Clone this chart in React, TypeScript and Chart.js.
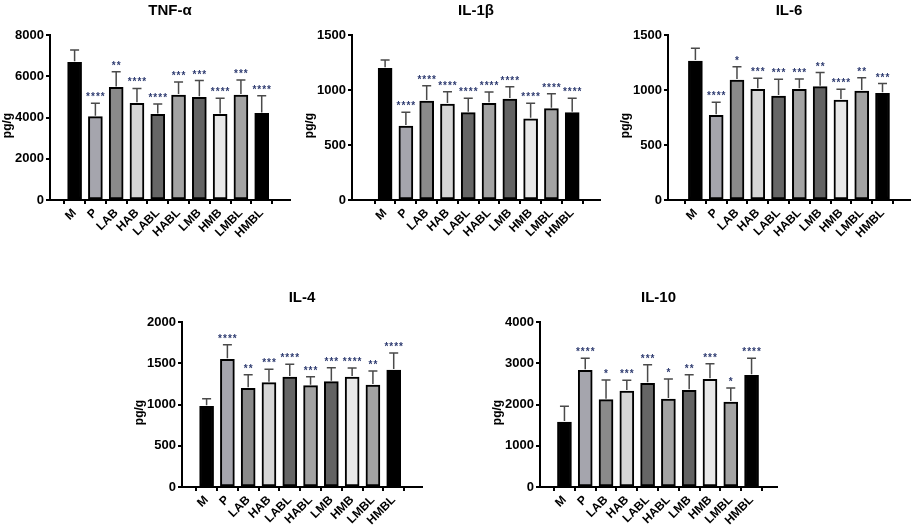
import { useEffect, useRef } from 'react';
import { Chart, registerables } from 'chart.js';
import React from 'react';

Chart.register(...registerables);

const categories = ['M', 'P', 'LAB', 'HAB', 'LABL', 'HABL', 'LMB', 'HMB', 'LMBL', 'HMBL'];
const barColors = ['#000000', '#a5a5ad', '#8a8a8a', '#d6d6d6', '#666666', '#a3a3a3', '#636363', '#e8e8e8', '#a3a3a3', '#000000'];

// TNF-α
const tnfMean = [6680, 4040, 5460, 4690, 4150, 5090, 4980, 4150, 5090, 4200];
const tnfUpper = [7270, 4690, 6220, 5410, 4650, 5720, 5790, 4930, 5820, 5060];
const tnfStars = ['', '****', '**', '****', '****', '***', '***', '****', '***', '****'];

// IL-1β
const il1Mean = [1197, 673, 900, 873, 794, 879, 918, 739, 830, 794];
const il1Upper = [1273, 797, 1039, 985, 924, 982, 1030, 879, 967, 924];
const il1Stars = ['', '****', '****', '****', '****', '****', '****', '****', '****', '****'];

// IL-6
const il6Mean = [1264, 770, 1091, 1006, 945, 1006, 1030, 909, 991, 970];
const il6Upper = [1379, 888, 1212, 1106, 1097, 1100, 1158, 1006, 1112, 1058];
const il6Stars = ['', '****', '*', '***', '***', '***', '**', '****', '**', '***'];

// IL-4
const il4Mean = [978, 1547, 1196, 1265, 1333, 1228, 1277, 1333, 1236, 1418];
const il4Upper = [1071, 1725, 1362, 1426, 1487, 1337, 1446, 1442, 1406, 1624];
const il4Stars = ['', '****', '**', '***', '****', '***', '***', '****', '**', '****'];

// IL-10
const il10Mean = [1576, 2828, 2117, 2327, 2513, 2133, 2343, 2610, 2061, 2707];
const il10Upper = [1956, 3119, 2594, 2586, 2966, 2618, 2723, 2990, 2400, 3119];
const il10Stars = ['', '****', '*', '***', '***', '*', '**', '***', '*', '****'];

const FONT = "'Liberation Sans', Arial, sans-serif";

interface PanelProps {
  title: string;
  mean: number[];
  upper: number[];
  stars: string[];
  yMax: number;
  yStep: number;
  // canvas box and chart area in page pixels
  box: [number, number, number, number];
  area: [number, number, number, number];
  firstCenter: number;
}

const SPACING = 23.1;

const Panel: React.FC<PanelProps> = ({ title, mean, upper, stars, yMax, yStep, box, area, firstCenter }) => {
  const canvasRef = useRef<HTMLCanvasElement>(null);

  useEffect(() => {
    if (!canvasRef.current) return;
    const [cx, cy, cw, ch] = box;
    const [L, T, R, B] = area;
    const xMin = -(firstCenter - L) / SPACING;
    const xMax = xMin + (R - L) / SPACING;

    // error bars, significance stars, title and y-axis label
    const extras = {
      id: 'extras',
      afterDatasetsDraw(chart: any) {
        const ctx = chart.ctx;
        const xs = chart.scales.x;
        const ys = chart.scales.y;
        ctx.save();
        ctx.strokeStyle = '#4a4a4a';
        ctx.lineWidth = 1.5;
        mean.forEach((m, i) => {
          const x = xs.getPixelForValue(i);
          const yb = ys.getPixelForValue(m);
          const yt = ys.getPixelForValue(upper[i]);
          ctx.beginPath();
          ctx.moveTo(x, yb - 1);
          ctx.lineTo(x, yt);
          ctx.moveTo(x - 4.5, yt);
          ctx.lineTo(x + 4.5, yt);
          ctx.stroke();
          if (stars[i]) {
            ctx.fillStyle = '#2e3b70';
            ctx.font = `bold 10px ${FONT}`;
            (ctx as any).letterSpacing = '1px';
            ctx.textAlign = 'center';
            ctx.textBaseline = 'alphabetic';
            ctx.fillText(stars[i], x + 0.5, yt - 3);
          }
        });
        (ctx as any).letterSpacing = '0px';
        const ca = chart.chartArea;
        ctx.fillStyle = '#000';
        ctx.textAlign = 'center';
        ctx.textBaseline = 'middle';
        ctx.font = `bold 15px ${FONT}`;
        ctx.fillText(title, (ca.left + ca.right) / 2, ca.top - 24);
        ctx.save();
        ctx.translate(ca.left - 42, (ca.top + ca.bottom) / 2 + 8);
        ctx.rotate(-Math.PI / 2);
        ctx.font = `bold 12px ${FONT}`;
        ctx.fillText('pg/g', 0, 0);
        ctx.restore();
        ctx.restore();
      }
    };

    const axisGrid = {
      display: true,
      drawOnChartArea: false,
      drawTicks: true,
      tickLength: 4,
      color: '#000',
      lineWidth: 2
    };

    const chart = new Chart(canvasRef.current, {
      type: 'bar',
      data: {
        datasets: [{
          data: mean.map((v, i) => ({ x: i, y: v })),
          backgroundColor: barColors,
          borderColor: '#000',
          borderWidth: 2,
          borderSkipped: false,
          barThickness: 14
        }]
      },
      options: {
        animation: false,
        responsive: false,
        devicePixelRatio: 1,
        layout: { padding: { top: T - cy, right: cx + cw - R, left: 0, bottom: 0 } },
        plugins: { legend: { display: false }, tooltip: { enabled: false }, title: { display: false } },
        scales: {
          x: {
            type: 'linear',
            min: xMin,
            max: xMax,
            grid: axisGrid,
            border: { display: true, color: '#000', width: 2 },
            ticks: {
              stepSize: 1,
              includeBounds: false,
              autoSkip: false,
              minRotation: 45,
              maxRotation: 45,
              padding: 2,
              color: '#000',
              font: { family: FONT, size: 12, weight: 'bold' },
              callback: (v: any) => categories[v] ?? ''
            },
            afterFit: (s: any) => {
              s.height = cy + ch - B;
              s.paddingLeft = 0;
              s.paddingRight = 0;
            }
          },
          y: {
            min: 0,
            max: yMax,
            grid: axisGrid,
            border: { display: true, color: '#000', width: 2 },
            ticks: {
              stepSize: yStep,
              padding: 2,
              color: '#000',
              font: { family: FONT, size: 13, weight: 'bold' },
              callback: (v: any) => String(v)
            },
            afterFit: (s: any) => {
              s.width = L - cx;
            }
          }
        }
      },
      plugins: [extras]
    } as any);
    return () => chart.destroy();
  }, []);

  const [cx, cy, cw, ch] = box;
  return (
    <canvas
      ref={canvasRef}
      width={cw}
      height={ch}
      style={{ position: 'absolute', left: cx, top: cy, width: cw, height: ch }}
    ></canvas>
  );
};

const App: React.FC = () => {
  return (
    <div style={{ position: 'absolute', left: 0, top: 0, width: 913, height: 532, background: '#fff' }}>
      <Panel title="TNF-α" mean={tnfMean} upper={tnfUpper} stars={tnfStars} yMax={8000} yStep={2000}
        box={[0, 0, 305, 265]} area={[50, 35, 290, 200]} firstCenter={64} />
      <Panel title="IL-1β" mean={il1Mean} upper={il1Upper} stars={il1Stars} yMax={1500} yStep={500}
        box={[305, 0, 305, 265]} area={[352, 35, 600, 200]} firstCenter={375} />
      <Panel title="IL-6" mean={il6Mean} upper={il6Upper} stars={il6Stars} yMax={1500} yStep={500}
        box={[610, 0, 303, 265]} area={[668, 35, 910, 200]} firstCenter={685} />
      <Panel title="IL-4" mean={il4Mean} upper={il4Upper} stars={il4Stars} yMax={2000} yStep={500}
        box={[130, 270, 330, 262]} area={[182, 322, 422, 487]} firstCenter={196} />
      <Panel title="IL-10" mean={il10Mean} upper={il10Upper} stars={il10Stars} yMax={4000} yStep={1000}
        box={[470, 270, 330, 262]} area={[540, 322, 777, 487]} firstCenter={554} />
    </div>
  );
};

export default App;
